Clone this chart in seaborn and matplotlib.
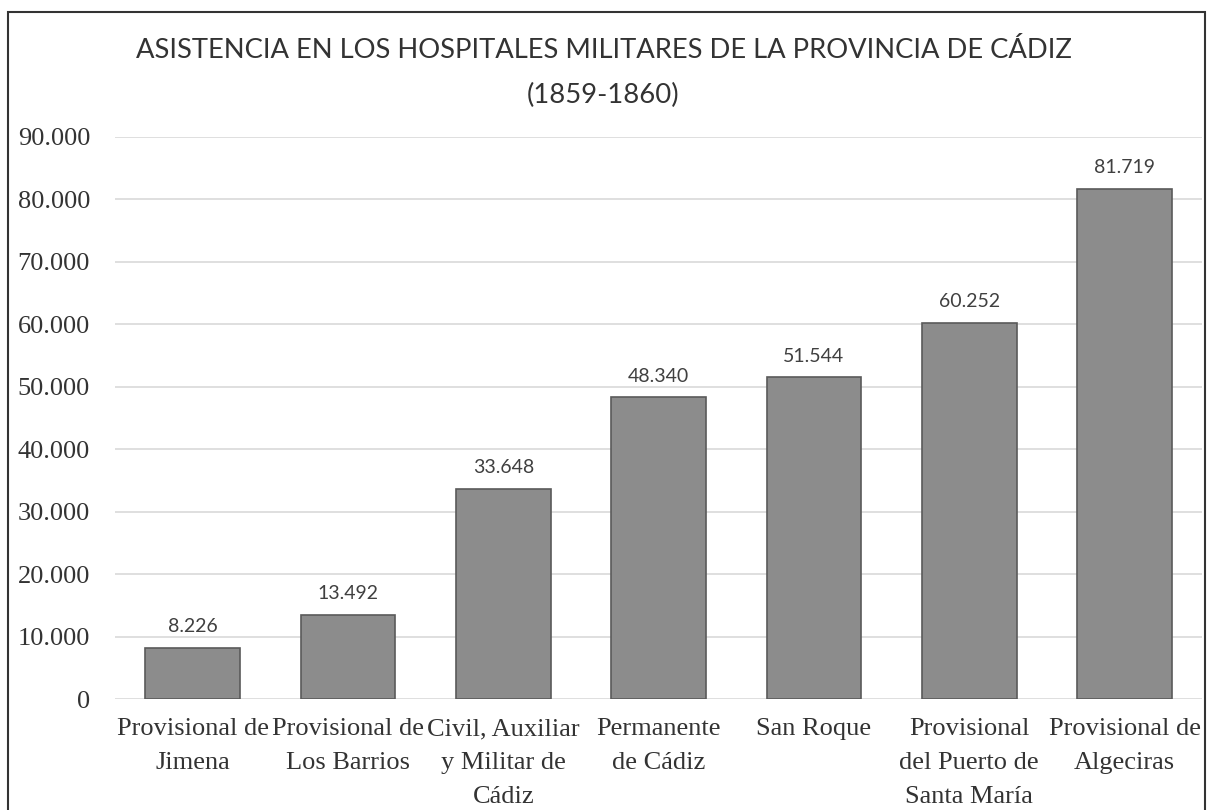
import matplotlib
matplotlib.use("Agg")
import matplotlib.pyplot as plt
import seaborn as sns
import pandas as pd
from matplotlib.patches import Rectangle

hospitales = [
    "Provisional de\nJimena",
    "Provisional de\nLos Barrios",
    "Civil, Auxiliar\ny Militar de\nCádiz",
    "Permanente\nde Cádiz",
    "San Roque",
    "Provisional\ndel Puerto de\nSanta María",
    "Provisional de\nAlgeciras",
]
asistencias = [8226, 13492, 33648, 48340, 51544, 60252, 81719]
yticks = [0, 10000, 20000, 30000, 40000, 50000, 60000, 70000, 80000, 90000]

df = pd.DataFrame({"hospital": hospitales, "asistencias": asistencias})

def fmt(v):
    return f"{v:,.0f}".replace(",", ".")

sns.set_theme(style="white")
fig = plt.figure(figsize=(12.07, 8.10), dpi=100)
ax = fig.add_axes([0.0953, 0.137, 0.9007, 0.694])

sns.barplot(data=df, x="hospital", y="asistencias", color="#8c8c8c",
            saturation=1, width=0.61, edgecolor="#5a5a5a", linewidth=1.2,
            ax=ax, zorder=3)

for i, v in enumerate(asistencias):
    ax.annotate(fmt(v), (i, v), xytext=(0, 9), textcoords="offset points",
                ha="center", va="bottom", fontsize=14, color="#404040",
                family=["Lato", "DejaVu Sans"])

ax.set_ylim(0, 90000)
ax.set_xlim(-0.5, len(hospitales) - 0.5)
ax.set_yticks(yticks)
ax.set_yticklabels([fmt(t) for t in yticks], family="Liberation Serif",
                   fontsize=19, color="#333333")
ax.set_xticklabels(hospitales, family="Liberation Serif", fontsize=19,
                   color="#333333", linespacing=1.68)
ax.tick_params(axis="y", length=0, pad=18)
ax.tick_params(axis="x", length=0, pad=14)
ax.yaxis.grid(True, color="#d9d9d9", linewidth=1.2, zorder=0)
ax.set_axisbelow(True)
for s in ax.spines.values():
    s.set_visible(False)
ax.set_xlabel("")
ax.set_ylabel("")

fig.text(0.5, 0.91, "ASISTENCIA EN LOS HOSPITALES MILITARES DE LA PROVINCIA DE CÁDIZ\n(1859-1860)",
         ha="center", va="center", fontsize=19.7, color="#333333",
         family=["Lato", "DejaVu Sans"], linespacing=2.0)

border = Rectangle((8 / 1207, -0.05), (1205 - 8) / 1207, 1.05 - 12 / 810,
                   transform=fig.transFigure, fill=False, edgecolor="#333333",
                   linewidth=1.5, clip_on=False)
fig.patches.append(border)

fig.savefig("out.png", dpi=100)
